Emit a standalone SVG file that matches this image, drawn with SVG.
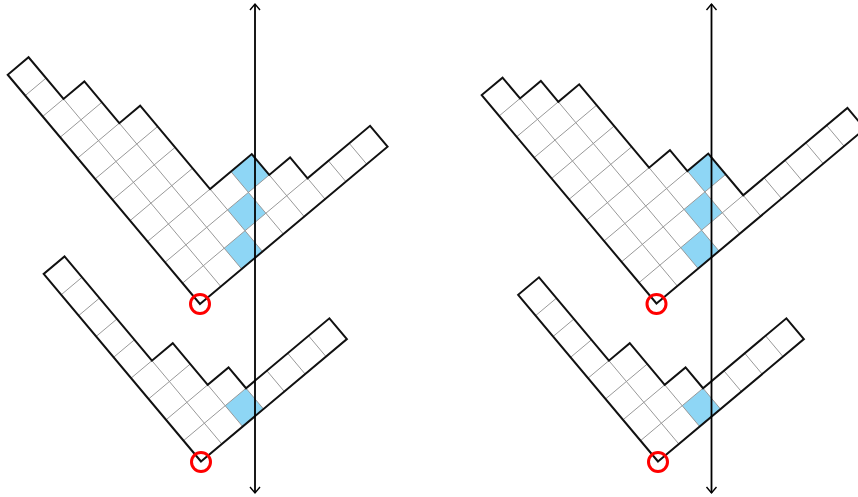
<svg xmlns="http://www.w3.org/2000/svg" width="858" height="497" viewBox="0 0 858 497">
<style>
.bg{fill:#fff;stroke:none}
.cell{fill:#8ed6f5;stroke:none}
.grid{fill:none;stroke:#999;stroke-width:1;vector-effect:non-scaling-stroke}
.outline{fill:none;stroke:#111;stroke-width:2;stroke-linejoin:miter;vector-effect:non-scaling-stroke}
.axis{fill:none;stroke:#000;stroke-width:1.8}
.mark{fill:none;stroke:#f00;stroke-width:3}
</style>
<defs>
<marker id="tip" markerUnits="userSpaceOnUse" markerWidth="14" markerHeight="14" refX="0" refY="0" orient="auto-start-reverse" overflow="visible">
<path d="M-6,-5 L0,0 L-6,5" fill="none" stroke="#000" stroke-width="1.4"/>
</marker>
</defs>
<rect width="858" height="497" fill="#fff"/>

<g id="diagram-top-left" transform="matrix(20.84,-17.48,-17.48,-20.84,200,304)">
<path class="bg" d="M0,0 H9 V1 H6 V2 H5 V3 H3 V7 H2 V9 H1 V11 H0 Z"/>
<path class="cell" d="M4,2 h1 v1 h-1 Z M3,1 h1 v1 h-1 Z M2,0 h1 v1 h-1 Z"/>
<path class="grid" d="M1,0 V9 M2,0 V7 M3,0 V3 M4,0 V3 M5,0 V2 M6,0 V1 M7,0 V1 M8,0 V1 M0,1 H6 M0,2 H5 M0,3 H3 M0,4 H3 M0,5 H3 M0,6 H3 M0,7 H2 M0,8 H2 M0,9 H1 M0,10 H1"/>
<path class="outline" d="M0,0 H9 V1 H6 V2 H5 V3 H3 V7 H2 V9 H1 V11 H0 Z"/>
</g>

<g id="diagram-bottom-left" transform="matrix(20.84,-17.48,-17.48,-20.84,201,461.5)">
<path class="bg" d="M0,0 H7 V1 H3 V2 H2 V4 H1 V9 H0 Z"/>
<path class="cell" d="M2,0 h1 v1 h-1 Z"/>
<path class="grid" d="M1,0 V4 M2,0 V2 M3,0 V1 M4,0 V1 M5,0 V1 M6,0 V1 M0,1 H3 M0,2 H2 M0,3 H2 M0,4 H1 M0,5 H1 M0,6 H1 M0,7 H1 M0,8 H1"/>
<path class="outline" d="M0,0 H7 V1 H3 V2 H2 V4 H1 V9 H0 Z"/>
</g>

<g id="diagram-top-right" transform="matrix(20.84,-17.48,-17.48,-20.84,656.5,303.5)">
<path class="bg" d="M0,0 H10 V1 H5 V3 H4 V4 H3 V8 H2 V9 H1 V10 H0 Z"/>
<path class="cell" d="M4,2 h1 v1 h-1 Z M3,1 h1 v1 h-1 Z M2,0 h1 v1 h-1 Z"/>
<path class="grid" d="M1,0 V9 M2,0 V8 M3,0 V4 M4,0 V3 M5,0 V1 M6,0 V1 M7,0 V1 M8,0 V1 M9,0 V1 M0,1 H5 M0,2 H5 M0,3 H4 M0,4 H3 M0,5 H3 M0,6 H3 M0,7 H3 M0,8 H2 M0,9 H1"/>
<path class="outline" d="M0,0 H10 V1 H5 V3 H4 V4 H3 V8 H2 V9 H1 V10 H0 Z"/>
</g>

<g id="diagram-bottom-right" transform="matrix(20.84,-17.48,-17.48,-20.84,658,461.5)">
<path class="bg" d="M0,0 H7 V1 H3 V2 H2 V4 H1 V8 H0 Z"/>
<path class="cell" d="M2,0 h1 v1 h-1 Z"/>
<path class="grid" d="M1,0 V4 M2,0 V2 M3,0 V1 M4,0 V1 M5,0 V1 M6,0 V1 M0,1 H3 M0,2 H2 M0,3 H2 M0,4 H1 M0,5 H1 M0,6 H1 M0,7 H1"/>
<path class="outline" d="M0,0 H7 V1 H3 V2 H2 V4 H1 V8 H0 Z"/>
</g>

<g id="connectors">
<line id="axis-left" class="axis" x1="255" y1="4" x2="255" y2="493" marker-start="url(#tip)" marker-end="url(#tip)"/>
<line id="axis-right" class="axis" x1="711.5" y1="4" x2="711.5" y2="493" marker-start="url(#tip)" marker-end="url(#tip)"/>
</g>

<g id="markers">
<circle id="origin-top-left" class="mark" cx="200" cy="304" r="9.5"/>
<circle id="origin-bottom-left" class="mark" cx="201" cy="462" r="9.5"/>
<circle id="origin-top-right" class="mark" cx="656.5" cy="304" r="9.5"/>
<circle id="origin-bottom-right" class="mark" cx="658" cy="462" r="9.5"/>
</g>
</svg>
